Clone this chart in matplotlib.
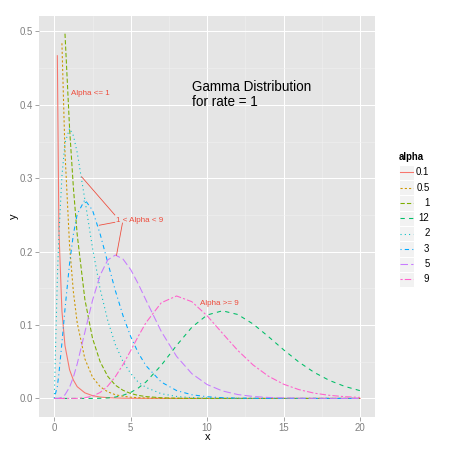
import numpy as np
import matplotlib.pyplot as plt
from matplotlib.patches import Rectangle

nan = np.nan

# x grid and density values (alpha series, rate = 1)
x = [0, 0.2, 0.3, 0.5, 0.7, 1, 1.25, 1.5, 2, 2.5, 3, 3.5, 4, 4.5, 5, 5.5, 6,
     7, 8, 9, 10, 11, 12, 13, 14, 15, 16, 17, 18, 19, 20]

y_01 = [nan, 0.467, 0.230, 0.119, 0.072, 0.039, 0.025, 0.016, 0.0076, 0.0038,
        0.0019, 0.0010, 0.0006, 0.0003, 0.0002, 0.0001, 0.0001,
        0, 0, 0, 0, 0, 0, 0, 0, 0, 0, 0, 0, 0, 0]
y_05 = [nan, nan, nan, 0.484, 0.335, 0.208, 0.145, 0.103, 0.054, 0.029,
        0.016, 0.009, 0.005, 0.003, 0.0017, 0.0010, 0.0006,
        0.0002, 0.0001, 0, 0, 0, 0, 0, 0, 0, 0, 0, 0, 0, 0]
y_1 = [nan, nan, nan, nan, 0.497, 0.368, 0.287, 0.223, 0.135, 0.082,
       0.050, 0.030, 0.018, 0.011, 0.0067, 0.0041, 0.0025,
       0.0009, 0.0003, 0.0001, 0, 0, 0, 0, 0, 0, 0, 0, 0, 0, 0]
y_12 = [0, 0, 0, 0, 0, 0, 0, 0, 0, 0,
        0.0002, 0.0007, 0.0019, 0.0043, 0.0082, 0.0143, 0.0225,
        0.0452, 0.0722, 0.0970, 0.1137, 0.1194, 0.1144, 0.1015, 0.0844,
        0.0663, 0.0496, 0.0355, 0.0245, 0.0164, 0.0106]
y_2 = [0, 0.164, 0.222, 0.303, 0.348, 0.368, 0.358, 0.335, 0.271, 0.205,
       0.149, 0.106, 0.073, 0.050, 0.034, 0.022, 0.015,
       0.0064, 0.0027, 0.0011, 0.0005, 0.0002, 0.0001, 0, 0, 0, 0, 0, 0, 0, 0]
y_3 = [0, 0.0164, 0.0333, 0.0758, 0.1217, 0.1839, 0.2238, 0.251, 0.2707, 0.2565,
       0.224, 0.185, 0.1465, 0.1125, 0.0842, 0.0618, 0.0446,
       0.0223, 0.0107, 0.0050, 0.0023, 0.0010, 0.0004, 0.0002, 0.0001,
       0, 0, 0, 0, 0, 0]
y_5 = [0, 0, 0.0003, 0.0016, 0.005, 0.0153, 0.0291, 0.0471, 0.0902, 0.1336,
       0.168, 0.1888, 0.1954, 0.1898, 0.1755, 0.1558, 0.1339,
       0.0912, 0.0573, 0.0337, 0.0189, 0.0102, 0.0053, 0.0027, 0.0013,
       0.0007, 0.0003, 0.0002, 0.0001, 0, 0]
y_9 = [0, 0, 0, 0, 0, 0, 0, 0.0001, 0.0009, 0.0031,
       0.0081, 0.0169, 0.0298, 0.0463, 0.0653, 0.0849, 0.1033,
       0.1304, 0.1396, 0.1318, 0.1126, 0.0888, 0.0655, 0.0457, 0.0304,
       0.0194, 0.0120, 0.0072, 0.0042, 0.0024, 0.0013]

labels = ["0.1", "0.5", "1", "12", "2", "3", "5", "9"]
series = [y_01, y_05, y_1, y_12, y_2, y_3, y_5, y_9]
colors = ["#F8766D", "#CD9600", "#7CAE00", "#00BE67",
          "#00BFC4", "#00A9FF", "#C77CFF", "#FF61CC"]
dashes = [None, (2, 2), (4, 2), (4, 4), (1, 3), (1, 3, 4, 3), (7, 3), (2, 2, 6, 2)]

red = "#EE4B3B"
grey50 = "#7F7F7F"
lw = 1.07

plt.rcParams['font.family'] = ['Liberation Sans', 'DejaVu Sans']

fig = plt.figure(figsize=(6.25, 6.25), dpi=72)
ax = fig.add_axes([39 / 450, 1 - 416.7 / 450, (375.3 - 39) / 450, (416.7 - 15.5) / 450])
ax.set_facecolor("#E5E5E5")
for s in ax.spines.values():
    s.set_visible(False)

ax.set_xlim(-1, 21)
ax.set_ylim(-0.0249, 0.5218)
ax.set_xticks([0, 5, 10, 15, 20])
ax.set_yticks([0, 0.1, 0.2, 0.3, 0.4, 0.5])
ax.set_yticklabels(["0.0", "0.1", "0.2", "0.3", "0.4", "0.5"])
ax.set_xticks([2.5, 7.5, 12.5, 17.5], minor=True)
ax.set_yticks([0.05, 0.15, 0.25, 0.35, 0.45], minor=True)
ax.grid(which="major", color="white", linewidth=1.0)
ax.grid(which="minor", color="#F2F2F2", linewidth=0.5)
ax.set_axisbelow(True)
ax.tick_params(which="major", length=4, width=0.7, color=grey50,
               labelcolor=grey50, labelsize=9.6, pad=2)
ax.tick_params(which="minor", length=0)

for ys, c, d in zip(series, colors, dashes):
    line, = ax.plot(x, ys, color=c, linewidth=lw)
    if d is not None:
        line.set_dashes(d)

# annotations
ax.text(9, 0.414, "Gamma Distribution\nfor rate = 1", fontsize=13.5,
        ha="left", va="center", linespacing=1.15)
ax.text(2.35, 0.415, "Alpha <= 1", color=red, fontsize=8, ha="center", va="center")
ax.text(5.59, 0.243, "1 < Alpha < 9", color=red, fontsize=8, ha="center", va="center")
ax.text(10.78, 0.130, "Alpha >= 9", color=red, fontsize=8, ha="center", va="center")
ax.plot([1.79, 3.96], [0.302, 0.250], color=red, linewidth=0.8)
ax.plot([2.94, 3.96], [0.236, 0.240], color=red, linewidth=0.8)
ax.plot([4.46, 4.07], [0.239, 0.195], color=red, linewidth=0.8)

# overlay in pixel coordinates for axis titles and legend
ov = fig.add_axes([0, 0, 1, 1])
ov.set_xlim(0, 450)
ov.set_ylim(450, 0)
ov.axis("off")
ov.patch.set_alpha(0)

ov.text(207.5, 437, "x", fontsize=11, ha="center", va="center")
ov.text(14, 216, "y", fontsize=11, ha="center", va="center", rotation=90)

ov.text(399, 157.5, "alpha", fontsize=9.6, fontweight="bold", ha="left", va="center")
for i, (lab, c, d) in enumerate(zip(labels, colors, dashes)):
    cy = 172.3 + i * 15.3
    ov.add_patch(Rectangle((398.5, cy - 7.6), 15.3, 15.3, facecolor="#F2F2F2",
                           edgecolor="white", linewidth=1))
    line, = ov.plot([399.5, 413], [cy, cy], color=c, linewidth=lw)
    if d is not None:
        line.set_dashes(d)
    ov.text(429.5, cy, lab, fontsize=9.6, ha="right", va="center")

fig.savefig("out.png", dpi=72)
